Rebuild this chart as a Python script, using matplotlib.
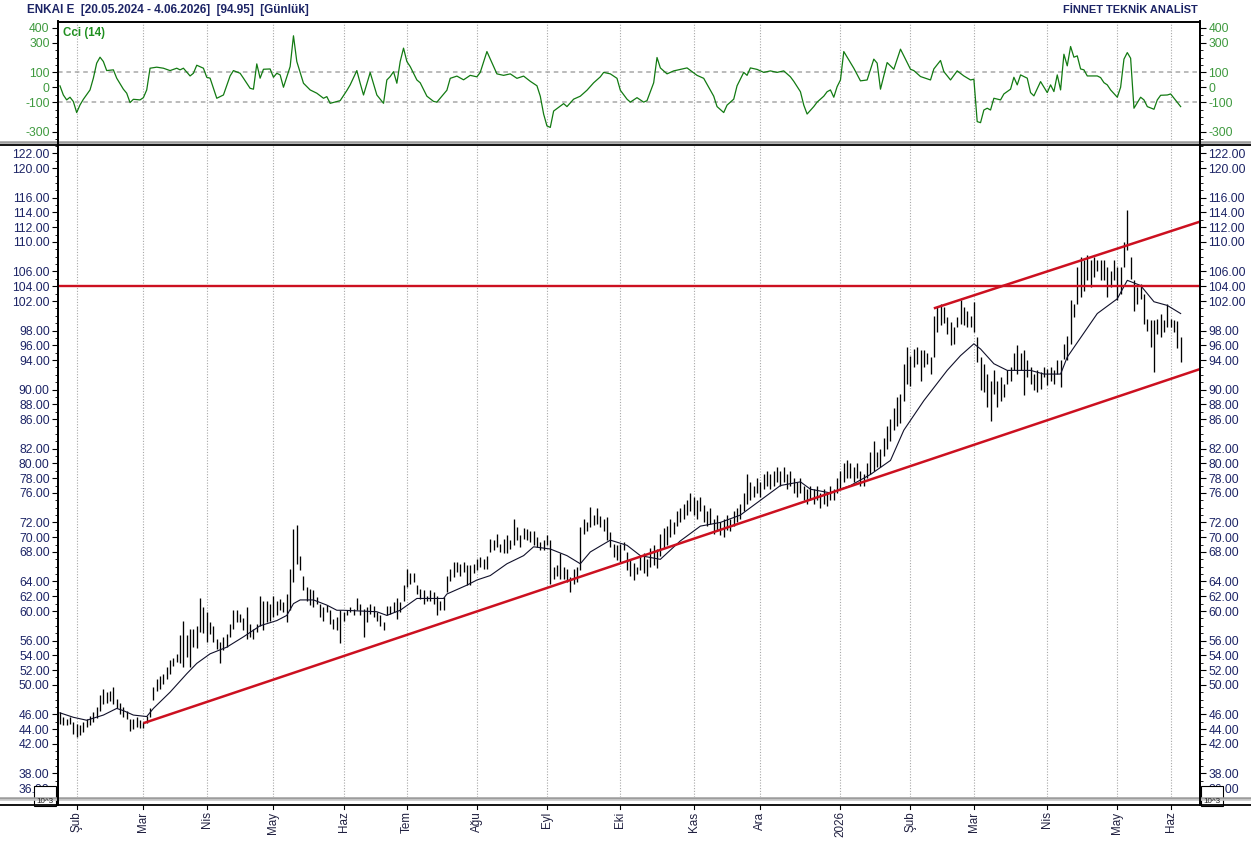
import matplotlib
matplotlib.use("Agg")
import matplotlib.pyplot as plt
from matplotlib.lines import Line2D
from matplotlib.patches import Rectangle
from matplotlib.ticker import FixedLocator, MultipleLocator

# =============================================================================
# DATA  (daily bars, index 0 = 27.01.2025 ... 336 = 04.06.2026)
# =============================================================================

highs = [
    46.3, 45.6, 45.4, 45.6, 44.9, 44.7, 44.5, 45.0, 45.4, 45.8,
    46.3, 47.0, 48.6, 49.5, 49.0, 49.2, 49.7, 48.1, 47.6, 47.0,
    46.5, 45.4, 45.4, 45.6, 45.2, 45.0, 45.8, 46.8, 49.7, 50.8,
    51.2, 51.5, 52.4, 53.3, 53.6, 54.2, 56.7, 58.7, 56.7, 57.6,
    57.6, 58.0, 61.7, 60.5, 59.9, 58.5, 58.0, 56.2, 55.8, 56.5,
    56.9, 58.3, 60.1, 60.1, 59.6, 59.0, 60.5, 58.3, 57.6, 58.3,
    62.1, 61.4, 61.4, 60.9, 62.1, 61.4, 61.6, 61.2, 62.3, 65.7,
    71.1, 71.6, 67.5, 64.8, 63.2, 63.0, 62.8, 61.9, 61.0, 60.5,
    60.8, 60.1, 58.9, 59.2, 60.1, 59.8, 60.1, 60.5, 60.3, 61.7,
    61.0, 60.3, 60.5, 61.0, 60.7, 59.9, 59.4, 58.5, 60.7, 60.7,
    61.2, 61.7, 61.2, 63.5, 65.7, 65.1, 65.1, 63.5, 63.0, 62.8,
    62.1, 62.8, 62.6, 62.1, 61.4, 61.9, 64.8, 65.7, 66.6, 66.6,
    66.4, 66.6, 66.2, 66.2, 66.4, 67.0, 67.3, 67.1, 67.5, 69.8,
    69.6, 70.5, 69.1, 69.8, 70.3, 69.6, 72.5, 71.4, 70.3, 71.2,
    71.1, 70.9, 70.9, 70.0, 69.4, 69.6, 70.3, 69.6, 65.9, 66.2,
    67.8, 66.0, 65.7, 64.6, 65.7, 65.9, 71.4, 72.5, 72.0, 74.1,
    73.0, 73.9, 72.9, 72.5, 72.7, 70.7, 69.1, 68.9, 69.1, 69.3,
    68.0, 67.0, 66.5, 66.0, 67.5, 67.8, 67.0, 68.5, 69.0, 68.4,
    70.5, 71.2, 71.5, 72.5, 72.0, 73.5, 74.0, 74.5, 75.0, 76.0,
    75.5, 75.0, 75.5, 74.3, 73.5, 74.0, 72.5, 73.0, 72.0, 72.5,
    73.0, 72.5, 73.5, 74.0, 74.5, 76.0, 78.5, 77.5, 77.0, 78.0,
    77.5, 78.5, 79.0, 78.5, 79.0, 79.5, 79.0, 79.5, 78.5, 79.0,
    78.0, 77.5, 78.0, 77.0, 76.5, 77.0, 76.5, 77.0, 76.0, 76.5,
    76.0, 77.0, 76.5, 78.0, 79.0, 80.0, 80.5, 80.0, 79.5, 80.0,
    79.0, 78.5, 80.0, 81.5, 83.0, 81.5, 82.0, 83.5, 85.0, 86.0,
    87.5, 89.0, 89.4, 93.5, 95.8, 94.5, 95.5, 95.8, 95.3, 95.3,
    95.0, 94.4, 100.0, 101.2, 101.6, 101.2, 99.8, 99.1, 98.5, 99.8,
    102.1, 101.2, 100.7, 100.0, 101.9, 97.1, 94.4, 93.5, 92.1, 91.2,
    92.6, 91.2, 91.7, 90.8, 92.6, 93.0, 94.9, 96.0, 94.9, 95.3,
    94.0, 93.0, 92.1, 92.6, 92.4, 93.0, 92.8, 93.0, 92.6, 94.0,
    94.0, 96.2, 97.3, 102.1, 101.6, 106.6, 108.0, 107.5, 108.3, 107.5,
    108.0, 107.5, 107.5, 107.5, 106.6, 106.1, 107.5, 106.6, 106.6, 110.0,
    114.3, 108.0, 104.8, 103.9, 104.3, 103.0, 99.6, 99.4, 99.4, 99.6,
    100.3, 99.4, 101.6, 99.6, 99.4, 99.3, 97.1,
]

lows = [
    44.7, 44.5, 44.6, 44.7, 43.3, 42.9, 43.2, 43.6, 44.3, 44.6,
    45.0, 45.5, 46.5, 47.4, 47.6, 47.8, 47.4, 46.8, 46.0, 45.6,
    45.4, 43.8, 44.0, 44.3, 44.2, 44.2, 44.8, 45.6, 47.9, 49.2,
    49.5, 50.1, 50.8, 51.5, 52.5, 53.1, 53.0, 52.4, 53.8, 52.4,
    55.1, 55.0, 57.1, 57.0, 55.8, 56.9, 55.8, 54.9, 52.9, 54.7,
    55.1, 56.5, 57.6, 58.5, 58.5, 57.4, 56.2, 56.5, 56.2, 57.1,
    58.0, 57.4, 58.5, 58.7, 59.2, 59.4, 60.1, 59.9, 58.5, 60.1,
    63.9, 66.4, 65.5, 62.8, 61.4, 60.8, 60.5, 61.0, 59.2, 58.7,
    59.9, 58.3, 57.6, 57.4, 55.6, 58.7, 59.4, 59.8, 59.4, 60.1,
    59.4, 56.5, 58.5, 59.6, 59.2, 58.7, 58.0, 57.4, 59.4, 59.6,
    59.8, 58.9, 59.8, 61.4, 63.2, 63.7, 63.9, 62.3, 61.6, 61.0,
    61.4, 61.4, 61.0, 59.4, 60.1, 60.1, 62.6, 64.1, 64.6, 65.3,
    64.8, 65.3, 63.5, 63.5, 65.1, 65.5, 66.0, 65.7, 65.7, 68.0,
    68.2, 68.7, 68.0, 67.8, 67.8, 68.4, 68.9, 69.6, 68.7, 69.8,
    69.6, 69.3, 68.9, 68.7, 68.2, 68.2, 68.9, 63.7, 64.4, 64.8,
    64.4, 64.4, 63.9, 62.6, 63.7, 63.9, 65.5, 70.5, 70.9, 71.4,
    71.6, 71.8, 71.4, 70.9, 69.6, 68.7, 67.3, 66.9, 66.6, 68.2,
    65.5, 64.8, 64.2, 65.0, 65.5, 65.2, 64.8, 66.0, 66.3, 65.8,
    67.5, 68.5, 69.0, 70.0, 70.5, 71.5, 72.0, 72.5, 73.0, 73.5,
    73.0, 72.5, 73.5, 72.0, 71.5, 71.8, 70.5, 71.0, 70.3, 70.0,
    71.0, 70.8, 71.5, 72.0, 72.5, 73.5, 74.5, 75.0, 75.5, 76.0,
    75.5, 76.5, 77.0, 76.5, 77.0, 77.5, 77.0, 77.5, 76.5, 77.0,
    76.0, 75.5, 76.0, 75.0, 74.5, 75.0, 74.5, 75.0, 74.0, 74.5,
    74.2, 75.0, 75.0, 76.0, 76.5, 77.5, 78.0, 78.0, 77.5, 78.0,
    77.0, 77.0, 78.0, 78.5, 79.0, 79.5, 79.5, 81.0, 82.0, 83.0,
    84.5, 85.0, 85.5, 88.5, 90.8, 90.5, 93.0, 93.5, 91.2, 93.0,
    93.5, 92.1, 94.4, 97.8, 98.7, 99.0, 97.5, 96.0, 96.2, 98.5,
    98.9, 98.7, 98.5, 98.5, 97.8, 93.7, 89.9, 89.7, 87.6, 85.8,
    89.4, 87.6, 88.5, 89.0, 90.8, 91.2, 92.6, 92.1, 92.6, 89.2,
    91.7, 90.8, 89.9, 89.7, 90.1, 91.7, 90.6, 91.2, 90.8, 92.1,
    90.3, 94.2, 94.0, 96.2, 99.8, 101.6, 102.5, 103.4, 104.8, 103.9,
    105.2, 106.1, 104.8, 104.8, 102.5, 103.9, 104.8, 102.1, 103.0, 106.6,
    108.9, 105.0, 100.7, 101.6, 102.3, 98.9, 98.0, 95.8, 92.4, 97.5,
    97.1, 97.8, 98.5, 98.5, 97.8, 95.6, 93.7,
]

# moving average (bar index, value)
ma_idx = [0, 4, 8, 13, 17, 19, 22, 26, 28, 33, 38, 41, 45, 50, 55, 60, 65, 68,
          70, 72, 76, 80, 83, 85, 95, 98, 102, 107, 115, 116, 122, 125, 129, 134,
          139, 142, 147, 152, 156, 159, 165, 170, 174, 180, 186, 192, 198, 204,
          210, 216, 222, 225, 231, 237, 243, 249, 253, 259, 266, 270, 274, 276,
          280, 284, 291, 295, 300, 302, 311, 317, 320, 324, 328, 332, 336]
ma_val = [46.2, 45.6, 45.2, 45.9, 46.8, 46.5, 45.9, 45.7, 46.8, 49.0, 51.5, 52.9,
          54.2, 55.1, 56.5, 58.0, 58.7, 59.4, 61.0, 61.5, 61.5, 60.8, 60.1, 60.1,
          59.9, 59.4, 60.1, 61.7, 61.7, 62.3, 63.5, 64.2, 64.8, 66.4, 67.5, 68.7,
          68.4, 67.5, 66.4, 68.0, 69.6, 68.9, 67.5, 67.0, 69.5, 71.5, 72.0, 73.0,
          75.0, 77.0, 77.5, 76.5, 76.0, 77.0, 78.5, 80.4, 84.5, 88.5, 92.6, 94.6,
          96.2, 95.5, 93.5, 92.6, 92.6, 92.1, 92.1, 94.4, 100.3, 102.3, 104.8,
          104.1, 101.9, 101.4, 100.3]

# CCI(14) (bar index, value)
cci_idx = [0, 1, 2, 3, 4, 5, 6, 7, 9, 10, 11, 12, 13, 14, 16, 17, 19, 20, 21, 22,
           24, 25, 26, 27, 29, 31, 33, 35, 36, 37, 39, 40, 41, 43, 44, 45, 47, 49,
           51, 52, 54, 55, 57, 58, 59, 60, 61, 63, 64, 65, 66, 67, 69, 70, 71, 73,
           75, 77, 79, 80, 81, 83, 84, 86, 87, 89, 90, 91, 93, 95, 97, 98, 99, 100,
           101, 102, 103, 104, 105, 107, 108, 110, 112, 113, 116, 117, 119, 121,
           123, 125, 126, 127, 128, 130, 131, 133, 135, 137, 139, 141, 143, 144,
           145, 146, 147, 148, 151, 152, 154, 156, 158, 160, 162, 163, 165, 167,
           168, 170, 171, 173, 175, 176, 178, 179, 180, 182, 184, 186, 188, 191,
           193, 194, 196, 197, 199, 200, 202, 203, 205, 206, 207, 209, 211, 213,
           215, 217, 219, 220, 222, 223, 224, 226, 227, 229, 230, 231, 232, 233,
           234, 235, 238, 240, 242, 244, 245, 246, 248, 250, 252, 255, 256, 258,
           261, 262, 264, 265, 267, 269, 271, 273, 274, 275, 276, 277, 278, 279,
           280, 282, 283, 285, 286, 287, 288, 290, 291, 292, 294, 296, 297, 298,
           299, 300, 301, 302, 303, 304, 305, 306, 307, 308, 311, 312, 313, 314,
           315, 317, 318, 319, 320, 321, 322, 324, 325, 326, 328, 329, 330, 332,
           333, 336]
cci_val = [9, -52, -85, -67, -96, -170, -119, -81, -18, 61, 162, 202, 173, 112, 117,
           61, -13, -40, -103, -81, -85, -70, -18, 128, 135, 128, 112, 128, 117,
           128, 76, 94, 148, 128, 67, 61, -74, -52, 76, 112, 94, 61, -7, -13, 157,
           61, 121, 123, 67, 94, 83, 0, 139, 346, 173, 27, -18, -40, -74, -63,
           -108, -96, -90, -22, 16, 112, 27, -52, 99, -52, -108, 49, 72, 105, 27,
           173, 263, 173, 139, 49, 30, -60, -95, -100, -20, 60, 75, 50, 80, 70,
           100, 170, 240, 140, 90, 80, 90, 60, 75, 40, 10, -60, -180, -260, -270,
           -160, -110, -130, -80, -60, -20, 30, 70, 100, 90, 60, -20, -80, -100,
           -70, -100, -90, 30, 200, 130, 90, 110, 120, 130, 80, 60, 20, -60, -130,
           -170, -120, -80, 10, 100, 80, 130, 120, 100, 110, 100, 110, 70, 40,
           -30, -120, -180, -130, -100, -60, -30, -18, -67, 4, 49, 240, 128, 43,
           49, 189, 162, -13, 166, 121, 256, 121, 112, 72, 49, 123, 180, 105, 49,
           110, 76, 49, 54, -231, -238, -153, -141, -153, -74, -85, -45, -13, 67,
           16, 83, 61, -36, -58, 38, -36, 16, -29, 83, -18, 222, 144, 274, 202,
           211, 123, 117, 76, 76, 65, 31, 16, -18, -67, 0, 189, 233, 195, -141,
           -67, -85, -130, -148, -85, -54, -52, -45, -130]

month_idx = [5, 25, 44, 64, 85, 104, 125, 146, 168, 190, 210, 234, 255, 274, 296, 317, 333]
month_lbl = ["Şub", "Mar", "Nis", "May", "Haz", "Tem", "Ağu", "Eyl", "Eki", "Kas",
             "Ara", "2026", "Şub", "Mar", "Nis", "May", "Haz"]

price_ticks = [36, 38, 42, 44, 46, 50, 52, 54, 56, 60, 62, 64, 68, 70, 72, 76, 78,
               80, 82, 86, 88, 90, 94, 96, 98, 102, 104, 106, 110, 112, 114, 116,
               120, 122]
cci_ticks = [400, 300, 100, 0, -100, -300]

resistance = 104.1
lower_trend = [(25, 44.8), (336, 91.9)]
upper_trend = [(262, 101.0), (336, 111.9)]

TITLE = "ENKAI E  [20.05.2024 - 4.06.2026]  [94.95]  [Günlük]"
BRAND = "FİNNET TEKNİK ANALİST"

# =============================================================================
# STYLE
# =============================================================================

W, H = 1251, 841
XMIN, XMAX = -0.6, 341.8
NAVY = "#1c2466"
GREEN_TXT = "#3f9a3f"
CCI_LINE = "#127a12"
RED = "#cc1020"
GRID = "#a8a8a8"

plt.rcParams["font.family"] = ["Liberation Sans", "DejaVu Sans"]
plt.rcParams["axes.unicode_minus"] = False


def fy(py):
    return 1 - py / H


fig = plt.figure(figsize=(W / 100, H / 100), dpi=100)
fig.patch.set_facecolor("white")

ax_cci = fig.add_axes([58 / W, fy(142), (1200 - 58) / W, (142 - 21.5) / H])
ax = fig.add_axes([58 / W, fy(797), (1200 - 58) / W, (797 - 146) / H])
ax_dt = fig.add_axes([58 / W, 0, (1200 - 58) / W, 36 / H])

# ── CCI panel ─────────────────────────────────────────────────────────────────
ax_cci.plot(cci_idx, cci_val, color=CCI_LINE, lw=0.9, zorder=3)
for lvl in (100, -100):
    ax_cci.axhline(lvl, color=GRID, lw=1.1, ls=(0, (3, 2.5)), zorder=1)
for m in month_idx:
    ax_cci.axvline(m, color=GRID, lw=0.8, ls=(0, (1, 1.5)), zorder=1)
ax_cci.set_xlim(XMIN, XMAX)
ax_cci.set_ylim(-368, 442)
ax_cci.yaxis.set_major_locator(FixedLocator(cci_ticks))
ax_cci.yaxis.set_minor_locator(MultipleLocator(50))
ax_cci.set_xticks([])
ax_cci.tick_params(axis="y", which="both", direction="out", left=True, right=True,
                   labelleft=True, labelright=True, labelsize=8.7,
                   labelcolor=GREEN_TXT, color="black", pad=2)
ax_cci.tick_params(axis="y", which="major", length=4, width=0.8)
ax_cci.tick_params(axis="y", which="minor", length=2.2, width=0.6)
ax_cci.text(0.004, 0.955, "Cci (14)", transform=ax_cci.transAxes, fontsize=8.3,
            fontweight="bold", color="#1f8f1f", va="top", ha="left")
for side in ("left", "right", "top"):
    ax_cci.spines[side].set_linewidth(1.4)
ax_cci.spines["bottom"].set_visible(False)

# ── price panel ───────────────────────────────────────────────────────────────
idx = list(range(len(highs)))
ax.vlines(idx, lows, highs, color="black", lw=0.95, zorder=3)
ax.plot(ma_idx, ma_val, color="#10102a", lw=0.8, zorder=4)
for m in month_idx:
    ax.axvline(m, color=GRID, lw=0.8, ls=(0, (1, 1.5)), zorder=1)

ax.axhline(resistance, color=RED, lw=1.7, zorder=5)
for (x0, y0), (x1, y1) in (lower_trend, upper_trend):
    slope = (y1 - y0) / (x1 - x0)
    ax.plot([x0, XMAX], [y0, y0 + slope * (XMAX - x0)], color=RED, lw=1.8,
            solid_capstyle="butt", zorder=5)

ax.set_xlim(XMIN, XMAX)
ax.set_ylim(34.8, 123.0)
ax.set_xticks([])
ax.yaxis.set_major_locator(FixedLocator(price_ticks))
ax.yaxis.set_minor_locator(MultipleLocator(1))
ax.set_yticklabels([f"{v:.2f}" for v in price_ticks])
ax.tick_params(axis="y", which="both", direction="out", left=True, right=True,
               labelleft=True, labelright=True, labelsize=8.7,
               labelcolor=NAVY, color="black", pad=2)
ax.tick_params(axis="y", which="major", length=4, width=0.8)
ax.tick_params(axis="y", which="minor", length=2.2, width=0.6)
for side in ("left", "right"):
    ax.spines[side].set_linewidth(1.4)
ax.spines["top"].set_visible(False)
ax.spines["bottom"].set_visible(False)

# ── date strip ────────────────────────────────────────────────────────────────
ax_dt.set_xlim(XMIN, XMAX)
ax_dt.set_ylim(0, 1)
ax_dt.axis("off")
for m, lbl in zip(month_idx, month_lbl):
    ax_dt.plot([m, m], [1.0, 0.89], color="black", lw=0.8)
    ax_dt.text(m, 0.82, lbl, rotation=90, ha="center", va="top", fontsize=8.4,
               color="#202040")

# ── separators and frame lines (figure pixels) ───────────────────────────────
def hline(py, color, lw, x0=0, x1=W):
    fig.add_artist(Line2D([x0 / W, x1 / W], [fy(py), fy(py)], color=color,
                          lw=lw, transform=fig.transFigure, zorder=3))


def vline(px, y0, y1, color, lw):
    fig.add_artist(Line2D([px / W, px / W], [fy(y0), fy(y1)], color=color,
                          lw=lw, transform=fig.transFigure, zorder=3))


hline(141.5, "#9c9c9c", 1.8)
hline(144.5, "black", 1.3)
hline(797.5, "#9c9c9c", 1.8)
hline(800.0, "#c8c8c8", 1.2)
hline(805.0, "black", 1.3)
vline(58, 21.5, 805, "black", 1.4)
vline(1200, 21.5, 805, "black", 1.4)

# ── header texts ──────────────────────────────────────────────────────────────
fig.text(27 / W, fy(10), TITLE, fontsize=8.5, fontweight="bold", color=NAVY,
         ha="left", va="center")
fig.text(1198 / W, fy(10), BRAND, fontsize=7.9, fontweight="bold", color=NAVY,
         ha="right", va="center")

# ── scale boxes: frame covers the lowest label, separators run across it ────
for x0, x1 in ((34, 56), (1201, 1223)):
    fig.add_artist(Rectangle((x0 / W, fy(806)), (x1 - x0) / W, 20 / H,
                             transform=fig.transFigure, fc="white", ec="black",
                             lw=0.8, zorder=1.5))
    fig.text((x0 + x1) / 2 / W, fy(801.5), "10^3", fontsize=5.8, ha="center",
             va="center", color="#202020", zorder=10)

fig.savefig("out.png", dpi=100)
